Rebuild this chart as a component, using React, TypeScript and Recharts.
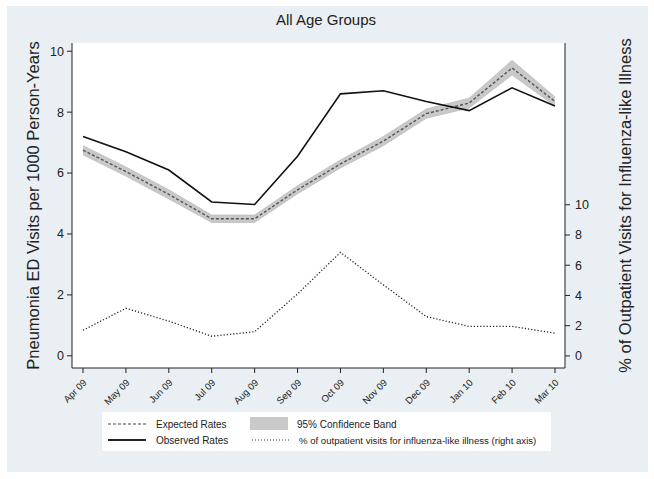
import { ComposedChart, Line, Area, XAxis, YAxis, CartesianGrid } from "recharts";

const months = ["Apr 09", "May 09", "Jun 09", "Jul 09", "Aug 09", "Sep 09", "Oct 09", "Nov 09", "Dec 09", "Jan 10", "Feb 10", "Mar 10"];
const observed = [7.2, 6.7, 6.1, 5.05, 4.97, 6.55, 8.6, 8.7, 8.35, 8.05, 8.8, 8.2];
const expected = [6.75, 6.05, 5.3, 4.5, 4.5, 5.45, 6.3, 7.05, 7.95, 8.3, 9.45, 8.35];
const bandLow = [6.6, 5.9, 5.15, 4.38, 4.38, 5.32, 6.17, 6.9, 7.8, 8.14, 9.22, 8.2];
const bandHigh = [6.9, 6.2, 5.45, 4.62, 4.62, 5.58, 6.43, 7.2, 8.1, 8.46, 9.7, 8.5];
const ili = [1.7, 3.15, 2.3, 1.3, 1.6, 4.1, 6.85, 4.7, 2.6, 1.95, 1.95, 1.5];
const leftTicks = [0, 2, 4, 6, 8, 10];
const rightTicks = [0, 2, 4, 6, 8, 10];

const data = months.map((m, i) => ({
  month: m,
  observed: observed[i],
  expected: expected[i],
  band: [bandLow[i], bandHigh[i]],
  ili: ili[i],
}));

const FONT = "'Liberation Sans', Arial, sans-serif";
const INK = "#222";

function MonthTick(props: any) {
  const { x, y, payload } = props;
  return (
    <g transform={`translate(${x + 2},${y + 6})`}>
      <text x={0} y={0} dy="0.35em" textAnchor="end" fontSize={9.5} fill={INK} fontFamily={FONT} transform="rotate(-45)">
        {payload.value}
      </text>
    </g>
  );
}

function LegendBox() {
  const txt = { fontSize: 10, fill: INK, fontFamily: FONT } as const;
  return (
    <svg width={449} height={39} style={{ position: "absolute", left: 102, top: 412 }}>
      <rect x={0} y={0} width={449} height={39} fill="#fff" />
      <line x1={6} x2={44} y1={12} y2={12} stroke="#444" strokeWidth={1.2} strokeDasharray="3 2" />
      <text x={54} y={16} {...txt}>Expected Rates</text>
      <rect x={148} y={5} width={38} height={13} fill="#c9c9c9" />
      <text x={195} y={16} {...txt}>95% Confidence Band</text>
      <line x1={6} x2={44} y1={28} y2={28} stroke="#222" strokeWidth={1.8} />
      <text x={54} y={32} {...txt}>Observed Rates</text>
      <line x1={150} x2={188} y1={28} y2={28} stroke="#333" strokeWidth={1.2} strokeDasharray="1 2" />
      <text x={197} y={32} {...txt} fontSize={9.6}>% of outpatient visits for influenza-like illness (right axis)</text>
    </svg>
  );
}

export default function App() {
  return (
    <div style={{ position: "absolute", left: 0, top: 0, width: 654, height: 479, background: "#fff" }}>
      <div style={{ position: "absolute", left: 7, top: 6, width: 641, height: 466, background: "#e9eff2" }} />
      <div style={{ position: "absolute", left: 0, top: 0 }}>
        <ComposedChart width={654} height={479} data={data} margin={{ top: 43, right: 0, bottom: 71, left: 0 }}>
          <CartesianGrid horizontal={false} vertical={false} fill="#fff" stroke="none" />
          <text x={326} y={25} textAnchor="middle" fontSize={15} fill={INK} fontFamily={FONT}>
            All Age Groups
          </text>
          <XAxis
            dataKey="month"
            scale="point"
            padding={{ left: 11, right: 10 }}
            height={40}
            tickSize={5}
            tickMargin={2}
            interval={0}
            stroke={INK}
            tick={<MonthTick />}
          />
          <YAxis
            yAxisId="left"
            width={72}
            type="number"
            domain={[-0.4, 10.27]}
            allowDataOverflow
            ticks={leftTicks}
            tickSize={5}
            tickMargin={3}
            stroke={INK}
            tick={{ fontSize: 12.5, fill: INK, fontFamily: FONT }}
            label={{
              value: "Pneumonia ED Visits per 1000 Person-Years",
              angle: -90,
              position: "insideLeft",
              offset: 0,
              dx: 33,
              style: { fontSize: 16.5, fill: INK, fontFamily: FONT, textAnchor: "middle" },
            }}
          />
          <YAxis
            yAxisId="right"
            orientation="right"
            width={89}
            type="number"
            domain={[-0.8, 20.7]}
            allowDataOverflow
            ticks={rightTicks}
            tickSize={5}
            tickMargin={5}
            stroke={INK}
            tick={{ fontSize: 12.5, fill: INK, fontFamily: FONT }}
            label={{
              value: "% of Outpatient Visits for Influenza-like Illness",
              angle: -90,
              position: "insideRight",
              offset: 0,
              dx: -29,
              style: { fontSize: 16.5, fill: INK, fontFamily: FONT, textAnchor: "middle" },
            }}
          />
          <Area
            yAxisId="left"
            dataKey="band"
            type="linear"
            fill="#c9c9c9"
            fillOpacity={1}
            stroke="#bcbcbc"
            strokeWidth={0.8}
            isAnimationActive={false}
          />
          <Line yAxisId="left" dataKey="expected" type="linear" stroke="#555" strokeWidth={1.4} strokeDasharray="3 2" dot={false} isAnimationActive={false} />
          <Line yAxisId="left" dataKey="observed" type="linear" stroke="#111" strokeWidth={1.6} dot={false} isAnimationActive={false} />
          <Line yAxisId="right" dataKey="ili" type="linear" stroke="#222" strokeWidth={1.3} strokeDasharray="1.2 2" dot={false} isAnimationActive={false} />
        </ComposedChart>
      </div>
      <LegendBox />
    </div>
  );
}
